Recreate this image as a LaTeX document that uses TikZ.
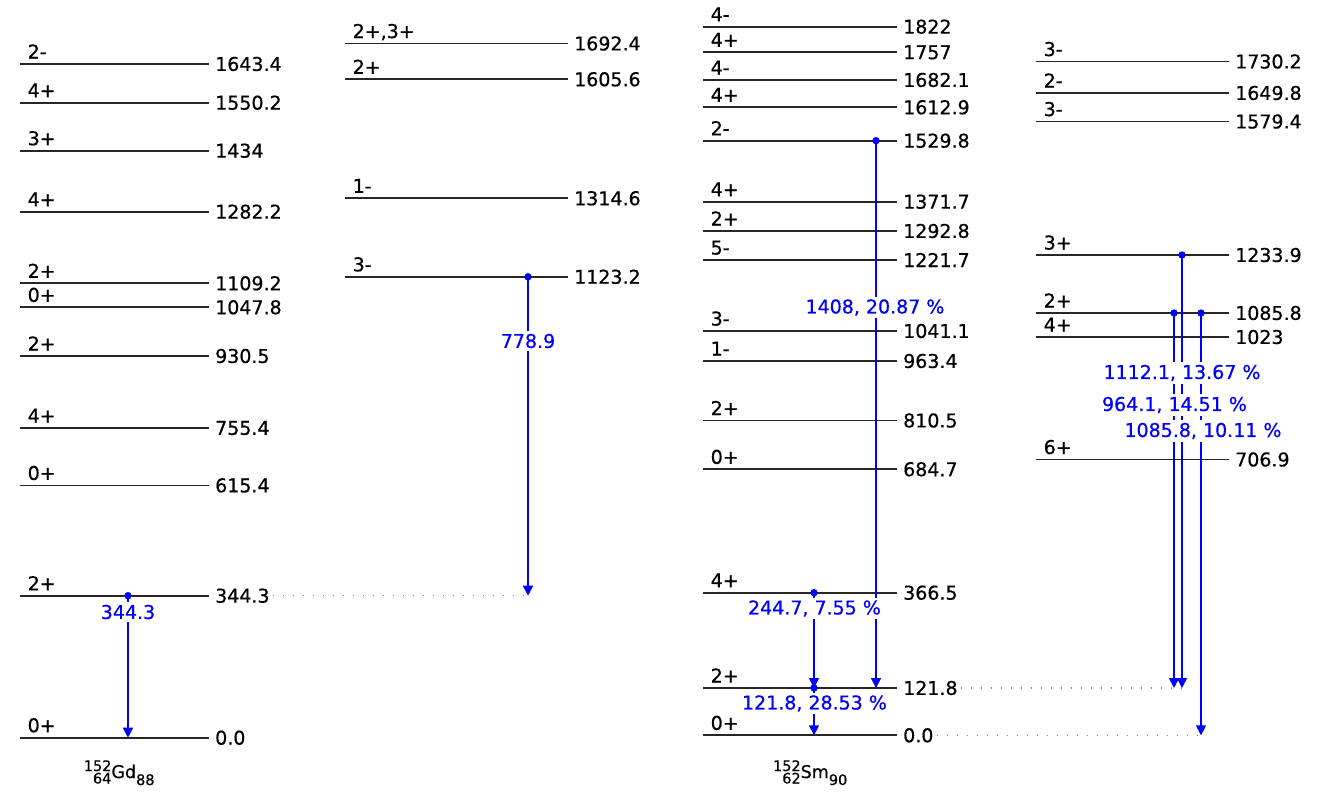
\documentclass[tikz,border=0pt]{standalone}
\usepackage{fontspec}
\setmainfont{DejaVu Sans}[FakeBold=0.6]
\usetikzlibrary{arrows.meta}
\tikzset{
  levelline/.style={line width=1.8pt, black!85},
  spinlbl/.style={anchor=base west, inner sep=0pt, font=\fontsize{19}{19}\selectfont},
  energylbl/.style={anchor=west, inner sep=0pt, font=\fontsize{19}{19}\selectfont},
  gline/.style={line width=1.6pt, blue, -{Triangle[width=10pt,length=10pt]}},
  gdot/.style={blue},
  glabel/.style={text=blue, fill=white, inner xsep=1pt, inner ysep=2.5pt, font=\fontsize{19}{19}\selectfont},
  refline/.style={gray, line width=1.4pt, dash pattern=on 1.5pt off 8.5pt},
  nuclbl/.style={anchor=base, inner sep=0pt}
}
\newcommand{\enlevel}[6]{%
  \coordinate (#1-l) at (#2,#4);
  \coordinate (#1-r) at (#3,#4);
  \draw[levelline] (#1-l) -- (#1-r);
  \node[spinlbl] (#1-s) at ({#2+7.5},{#4-5.5}) {#5};
  \node[energylbl] (#1-e) at ({#3+6},#4) {#6};
}
\newcommand{\gtrans}[4]{%
  \coordinate (#1-a) at (#2,#3);
  \coordinate (#1-b) at (#2,#4);
  \draw[gline] (#1-a) -- (#1-b);
  \fill[gdot] (#1-a) circle (3.7);
}
\newcommand{\nuclide}[4]{{\fontsize{14.5}{14.5}\selectfont\makebox[28pt][r]{\raisebox{7pt}{#1}}\kern-28pt\makebox[28pt][r]{\raisebox{-5.5pt}{#2}}}{\fontsize{17.5}{17.5}\selectfont #3}{\fontsize{14.5}{14.5}\selectfont\raisebox{-7pt}{#4}}}
\begin{document}
\begin{tikzpicture}[x=1pt,y=-1pt]
\useasboundingbox[fill=white] (0,0) rectangle (1325,796);
% ---- 152Gd, column 1
\enlevel{ga}{20}{209}{64}{2-}{1643.4}
\enlevel{gb}{20}{209}{102.7}{4+}{1550.2}
\enlevel{gc}{20}{209}{150.7}{3+}{1434}
\enlevel{gd}{20}{209}{211.7}{4+}{1282.2}
\enlevel{ge}{20}{209}{283.3}{2+}{1109.2}
\enlevel{gf}{20}{209}{307.3}{0+}{1047.8}
\enlevel{gg}{20}{209}{356}{2+}{930.5}
\enlevel{gh}{20}{209}{428}{4+}{755.4}
\enlevel{gi}{20}{209}{485.4}{0+}{615.4}
\enlevel{gj}{20}{209}{595.7}{2+}{344.3}
\enlevel{gk}{20}{209}{737.7}{0+}{0.0}
% ---- 152Gd, column 2
\enlevel{ha}{345}{568}{43.5}{2+,3+}{1692.4}
\enlevel{hb}{345}{568}{79.3}{2+}{1605.6}
\enlevel{hc}{345}{568}{198.3}{1-}{1314.6}
\enlevel{hd}{345}{568}{276.8}{3-}{1123.2}
% ---- 152Sm, column 3
\enlevel{sa}{703}{897}{26.7}{4-}{1822}
\enlevel{sb}{703}{897}{52.3}{4+}{1757}
\enlevel{sc}{703}{897}{80}{4-}{1682.1}
\enlevel{sd}{703}{897}{107.3}{4+}{1612.9}
\enlevel{se}{703}{897}{140.7}{2-}{1529.8}
\enlevel{sf}{703}{897}{201.7}{4+}{1371.7}
\enlevel{sg}{703}{897}{231}{2+}{1292.8}
\enlevel{sh}{703}{897}{260}{5-}{1221.7}
\enlevel{si}{703}{897}{331}{3-}{1041.1}
\enlevel{sj}{703}{897}{361}{1-}{963.4}
\enlevel{sk}{703}{897}{420.5}{2+}{810.5}
\enlevel{sl}{703}{897}{469.3}{0+}{684.7}
\enlevel{sm}{703}{897}{592.7}{4+}{366.5}
\enlevel{sn}{703}{897}{688}{2+}{121.8}
\enlevel{so}{703}{897}{735.3}{0+}{0.0}
% ---- 152Sm, column 4
\enlevel{ta}{1036}{1229}{61.5}{3-}{1730.2}
\enlevel{tb}{1036}{1229}{93}{2-}{1649.8}
\enlevel{tc}{1036}{1229}{121.5}{3-}{1579.4}
\enlevel{td}{1036}{1229}{255}{3+}{1233.9}
\enlevel{te}{1036}{1229}{313}{2+}{1085.8}
\enlevel{tf}{1036}{1229}{337}{4+}{1023}
\enlevel{tg}{1036}{1229}{459.5}{6+}{706.9}
% ---- reference (dotted) lines
\coordinate (x778) at (528,595.7);
\coordinate (x1112) at (1182,688);
\coordinate (x1086) at (1201,735.3);
\draw[refline] ([xshift=3pt]gj-e.east) -- (x778);
\draw[refline] ([xshift=3pt]sn-e.east) -- (x1112);
\draw[refline] ([xshift=3pt]so-e.east) -- (x1086);
% ---- gamma transitions
\gtrans{g344}{128}{595.7}{737.7}
\gtrans{g779}{528}{276.8}{595.7}
\gtrans{s1408}{876}{140.7}{688}
\gtrans{s245}{814}{592.7}{688}
\gtrans{s122}{814}{688}{735.3}
\gtrans{t1112}{1182}{255}{688}
\gtrans{t964}{1174}{313}{688}
\gtrans{t1086}{1201}{313}{735.3}
% ---- transition labels
\node[glabel] (l344) at (128,612) {344.3};
\node[glabel] (l779) at (528,341) {778.9};
\node[glabel] (l1408) at (875,307.5) {1408, 20.87 \%};
\node[glabel] (l245) at (814.5,608.5) {244.7, 7.55 \%};
\node[glabel] (l122) at (814.5,703.5) {121.8, 28.53 \%};
\node[glabel] (l1112) at (1182,373) {1112.1, 13.67 \%};
\node[glabel] (l964) at (1174.5,405) {964.1, 14.51 \%};
\node[glabel] (l1086) at (1203,431) {1085.8, 10.11 \%};
% ---- nuclide names
\node[nuclbl] (gdname) at (119,778) {\nuclide{152}{64}{Gd}{88}};
\node[nuclbl] (smname) at (810,778) {\nuclide{152}{62}{Sm}{90}};
\end{tikzpicture}
\end{document}
